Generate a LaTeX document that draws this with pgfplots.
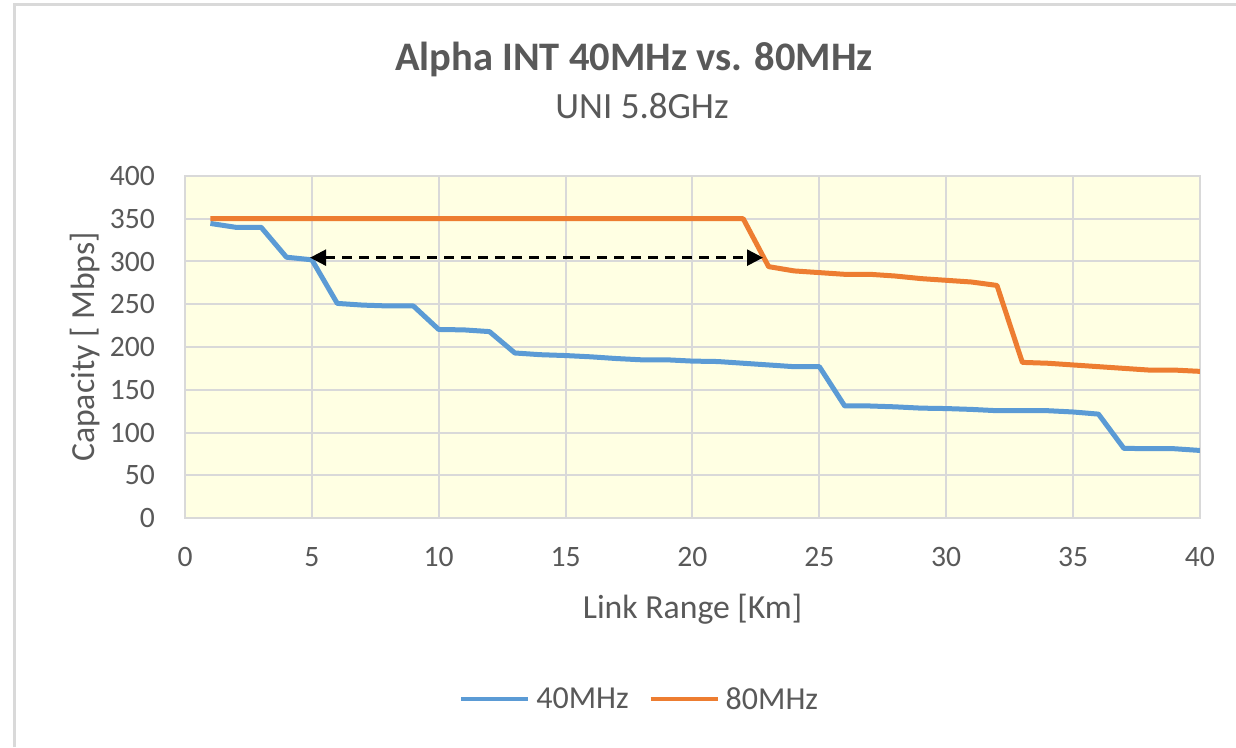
\documentclass[border=0pt]{standalone}
\usepackage{fontspec}
\setmainfont{Carlito}
\usepackage{pgfplots}
\pgfplotsset{compat=1.18}
\usetikzlibrary{arrows.meta}
\definecolor{txt}{HTML}{595959}
\definecolor{blue40}{HTML}{5B9BD5}
\definecolor{orange80}{HTML}{ED7D31}
\definecolor{gridc}{HTML}{D9D9D9}
\definecolor{bgy}{HTML}{FFFFE3}
\begin{document}
\begin{tikzpicture}[x=1pt,y=1pt]
\useasboundingbox (0,0) rectangle (1236,747);
\fill[white] (0,0) rectangle (1236,747);
\draw[gridc, line width=3pt] (14,0) -- (14,742) -- (1236,742);
\node[txt, font=\fontsize{40.5}{48}\selectfont\bfseries, anchor=base, inner sep=0pt] at (634,676) {Alpha INT 40MHz vs. 80MHz};
\node[txt, font=\fontsize{37}{44}\selectfont, anchor=base, inner sep=0pt] at (642,628) {UNI 5.8GHz};
\begin{axis}[
  at={(185pt,229pt)}, anchor=south west, scale only axis,
  width=1015pt, height=342pt,
  xmin=0, xmax=40, ymin=0, ymax=400,
  xtick={0,5,...,40}, ytick={0,50,...,400},
  grid=major, major grid style={gridc, line width=2pt},
  axis line style={gridc, line width=2pt},
  axis background/.style={fill=bgy},
  major tick length=0pt,
  tick label style={txt, font=\fontsize{29.6}{34}\selectfont, inner sep=0pt},
  /pgf/number format/assume math mode=true,
  xticklabel style={anchor=base, yshift=-48pt},
  yticklabel style={anchor=east, xshift=-30pt},
  xlabel={Link Range [Km]},
  ylabel={Capacity [ Mbps]},
  label style={txt, font=\fontsize{33.7}{40}\selectfont, inner sep=0pt},
  xlabel style={at={([yshift=-100pt]axis description cs:0.5,0)}, anchor=base},
  ylabel style={at={([xshift=-100pt]axis description cs:0,0.5)}, anchor=center},
  legend columns=2,
  legend style={at={(axis description cs:0.448,-0.529)}, anchor=center, draw=none, fill=none,
    font=\fontsize{32}{38}\selectfont, text=txt,
    /tikz/every odd column/.append style={column sep=4pt},
    /tikz/every even column/.append style={column sep=18pt}},
  legend image code/.code={\draw[#1, line width=4pt] (0pt,0pt) -- (67pt,0pt);},
]
\addplot[blue40, line width=5pt, line join=round] coordinates {
(1,344.5) (2,340) (3,340) (4,305) (5,302) (6,251) (7,249) (8,248) (9,248) (10,220.5)
(11,220) (12,218) (13,193) (14,191) (15,190) (16,188.5) (17,186.5) (18,185) (19,185) (20,183.5)
(21,183) (22,181) (23,179) (24,177) (25,177) (26,131) (27,131) (28,130) (29,128.5) (30,128)
(31,127) (32,125.5) (33,125.5) (34,125.5) (35,124) (36,121.5) (37,81.5) (38,81) (39,81) (40,79)
};
\addlegendentry{40MHz}
\addplot[orange80, line width=5pt, line join=round] coordinates {
(1,350) (2,350) (3,350) (4,350) (5,350) (6,350) (7,350) (8,350) (9,350) (10,350)
(11,350) (12,350) (13,350) (14,350) (15,350) (16,350) (17,350) (18,350) (19,350) (20,350)
(21,350) (22,350) (23,294) (24,289) (25,287) (26,285) (27,285) (28,283) (29,280) (30,278)
(31,276) (32,272) (33,182) (34,181) (35,179) (36,177) (37,175) (38,173) (39,173) (40,171.5)
};
\addlegendentry{80MHz}
\addplot[black, line width=2.5pt, dash pattern=on 10pt off 7pt, forget plot,
  {Triangle[length=16pt,width=16pt]}-{Triangle[length=16pt,width=16pt]}]
  coordinates {(4.93,304.5) (22.78,304.5)};
\end{axis}
\end{tikzpicture}
\end{document}
